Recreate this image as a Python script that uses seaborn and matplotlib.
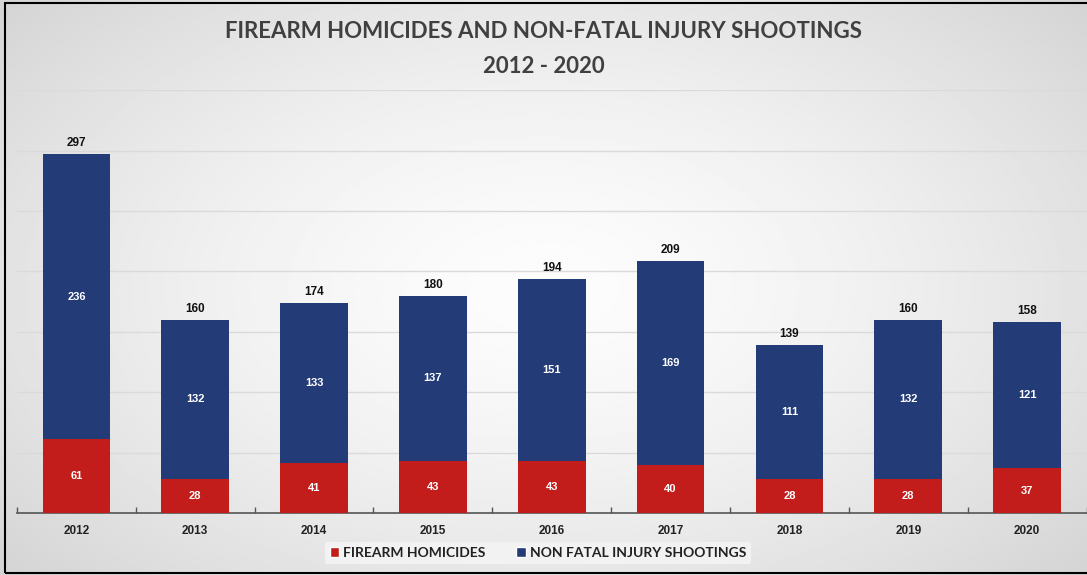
import numpy as np
import pandas as pd
import matplotlib
matplotlib.use("Agg")
import matplotlib.pyplot as plt
import seaborn as sns
from matplotlib.patches import Patch, Rectangle

years = ["2012", "2013", "2014", "2015", "2016", "2017", "2018", "2019", "2020"]
homicides = [61, 28, 41, 43, 43, 40, 28, 28, 37]
nonfatal = [236, 132, 133, 137, 151, 169, 111, 132, 121]
totals = [h + n for h, n in zip(homicides, nonfatal)]

RED = "#C21D1A"
BLUE = "#233C78"

sns.set_theme(style="white")
plt.rcParams["font.family"] = ["Liberation Sans", "DejaVu Sans"]

df = pd.DataFrame({"year": years, "homicides": homicides,
                   "nonfatal": nonfatal, "total": totals})

fig = plt.figure(figsize=(10.87, 5.75), dpi=100)

# background gradient
bg = fig.add_axes([0, 0, 1, 1], zorder=-10)
yy, xx = np.mgrid[-1:1:200j, -1:1:400j]
r = np.sqrt((xx * 0.9) ** 2 + (yy * 0.8) ** 2)
img = 0.99 - 0.12 * np.clip(r, 0, 1.3) ** 1.5
bg.imshow(img, cmap="gray", vmin=0, vmax=1, aspect="auto", extent=[0, 1, 0, 1])
bg.set_axis_off()
fig.patches.append(Rectangle((0.005, 0.004), 1.2, 0.99, transform=fig.transFigure,
                             fill=False, edgecolor="black", linewidth=1.5, zorder=20))

ax = fig.add_axes([0.0156, 0.108, 0.984, 0.735])
ax.patch.set_alpha(0)

sns.barplot(data=df, x="year", y="total", color=BLUE, width=0.57,
            saturation=1, ax=ax, zorder=3, linewidth=0, edgecolor="none")
sns.barplot(data=df, x="year", y="homicides", color=RED, width=0.57,
            saturation=1, ax=ax, zorder=4, linewidth=0, edgecolor="none")

ax.set_ylim(0, 350)
ax.set_xlim(-0.5, len(years) - 0.5)
ax.set_yticks(np.arange(50, 351, 50))
ax.yaxis.grid(True, color="#dadada", linewidth=1.0, zorder=0)
ax.tick_params(axis="y", left=False, labelleft=False)
for s in ["top", "right", "left"]:
    ax.spines[s].set_visible(False)
ax.spines["bottom"].set_color("#555555")
ax.spines["bottom"].set_linewidth(1.2)
ax.set_xlabel("")
ax.set_ylabel("")

ax.set_xticks(range(len(years)))
ax.set_xticklabels(years, fontsize=8.5, fontweight="bold", color="#222222")
ax.tick_params(axis="x", which="major", length=0, pad=9)
ax.set_xticks(np.arange(-0.5, len(years), 1), minor=True)
ax.tick_params(axis="x", which="minor", direction="in", length=4,
               width=1, color="#555555", bottom=True)

for i in range(len(years)):
    h, n, t = homicides[i], nonfatal[i], totals[i]
    ax.text(i, h / 2, str(h), ha="center", va="center", color="white",
            fontsize=8, fontweight="bold", zorder=6)
    ax.text(i, h + n / 2, str(n), ha="center", va="center", color="white",
            fontsize=8, fontweight="bold", zorder=6)
    ax.annotate(str(t), (i, t), xytext=(0, 3.5), textcoords="offset points",
                ha="center", va="bottom", fontsize=8.5, fontweight="bold",
                color="#111111", zorder=6)

fig.text(0.5, 0.945, "FIREARM HOMICIDES AND NON-FATAL INJURY SHOOTINGS",
         ha="center", va="center", fontsize=16, fontweight="bold",
         color="#404040", family=["Lato", "DejaVu Sans"])
fig.text(0.5, 0.885, "2012 - 2020", ha="center", va="center", fontsize=16,
         fontweight="bold", color="#404040", family=["Lato", "DejaVu Sans"])

handles = [Patch(facecolor=RED, label="FIREARM HOMICIDES"),
           Patch(facecolor=BLUE, label="NON FATAL INJURY SHOOTINGS")]
leg = fig.legend(handles=handles, loc="center", bbox_to_anchor=(0.495, 0.038),
                 ncol=2, frameon=True, handlelength=0.7,
                 handleheight=0.7, handletextpad=0.3, columnspacing=2.2,
                 borderpad=0.35, prop={"family": ["Lato", "DejaVu Sans"],
                                        "weight": "bold", "size": 10})
leg.get_frame().set_facecolor("#f4f4f4")
leg.get_frame().set_edgecolor("none")
leg.get_frame().set_alpha(0.9)
for t in leg.get_texts():
    t.set_color("#222222")

fig.savefig("out.png", dpi=100)
